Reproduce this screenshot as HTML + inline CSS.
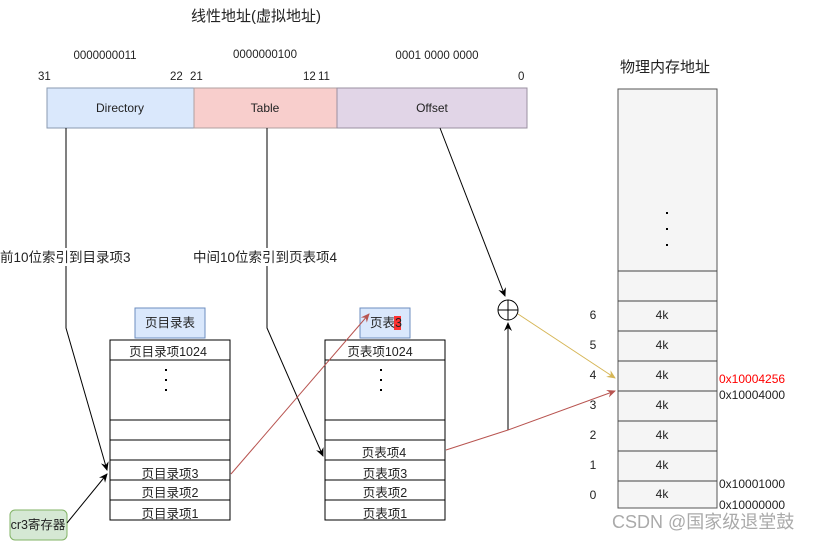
<!DOCTYPE html>
<html><head><meta charset="utf-8"><style>
html,body{margin:0;padding:0;background:#fff;}
svg{display:block;font-family:"Liberation Sans","Noto Sans CJK SC",sans-serif;}
text{fill:#222;font-size:12px;}
</style></head><body>
<svg width="818" height="541" viewBox="0 0 818 541" xmlns="http://www.w3.org/2000/svg">
<defs>
<marker id="ab" markerWidth="10" markerHeight="10" refX="8" refY="4" orient="auto" markerUnits="userSpaceOnUse"><path d="M0,0 L9,4 L0,8 L3,4z" fill="#000"/></marker>
<marker id="ar" markerWidth="10" markerHeight="10" refX="8" refY="4" orient="auto" markerUnits="userSpaceOnUse"><path d="M0,0 L9,4 L0,8 L3,4z" fill="#b85450"/></marker>
<marker id="ay" markerWidth="10" markerHeight="10" refX="8" refY="4" orient="auto" markerUnits="userSpaceOnUse"><path d="M0,0 L9,4 L0,8 L3,4z" fill="#d6b656"/></marker>
</defs>
<text x="256" y="21" text-anchor="middle" style="font-size:15px">线性地址(虚拟地址)</text>
<text x="105" y="59" text-anchor="middle" style="font-size:11.5px">0000000011</text>
<text x="265" y="58" text-anchor="middle" style="font-size:11.5px">0000000100</text>
<text x="437" y="59" text-anchor="middle" style="font-size:11.5px">0001 0000 0000</text>
<text x="38" y="80" style="font-size:11.5px">31</text><text x="170" y="80" style="font-size:11.5px">22</text><text x="190" y="80" style="font-size:11.5px">21</text><text x="303" y="80" style="font-size:11.5px">12</text><text x="318" y="80" style="font-size:11.5px">11</text><text x="518" y="80" style="font-size:11.5px">0</text>
<rect x="47" y="88" width="147" height="40" fill="#dae8fc" stroke="#8a9ab0"/>
<rect x="194" y="88" width="143" height="40" fill="#f8cecc" stroke="#b0a0a0"/>
<rect x="337" y="88" width="190" height="40" fill="#e1d5e7" stroke="#9a90a0"/>
<text x="120" y="112" text-anchor="middle">Directory</text>
<text x="265" y="112" text-anchor="middle">Table</text>
<text x="432" y="112" text-anchor="middle">Offset</text>
<text x="665" y="72" text-anchor="middle" style="font-size:15px">物理内存地址</text>
<rect x="618" y="89" width="99" height="419" fill="#f5f5f5" stroke="#555"/>
<g stroke="#444"><line x1="618" y1="271" x2="717" y2="271"/><line x1="618" y1="301" x2="717" y2="301"/><line x1="618" y1="331" x2="717" y2="331"/><line x1="618" y1="361" x2="717" y2="361"/><line x1="618" y1="391" x2="717" y2="391"/><line x1="618" y1="421" x2="717" y2="421"/><line x1="618" y1="451" x2="717" y2="451"/><line x1="618" y1="481" x2="717" y2="481"/></g>
<g fill="#000"><rect x="666" y="212" width="2" height="2"/><rect x="666" y="228" width="2" height="2"/><rect x="666" y="244" width="2" height="2"/></g>
<g text-anchor="middle"><text x="662" y="319">4k</text><text x="662" y="349">4k</text><text x="662" y="379">4k</text><text x="662" y="409">4k</text><text x="662" y="439">4k</text><text x="662" y="469">4k</text><text x="662" y="498">4k</text>
<text x="593" y="319">6</text><text x="593" y="349">5</text><text x="593" y="379">4</text><text x="593" y="409">3</text><text x="593" y="439">2</text><text x="593" y="469">1</text><text x="593" y="499">0</text></g>
<text x="719" y="383" style="fill:#f00">0x10004256</text>
<text x="719" y="399">0x10004000</text>
<text x="719" y="488">0x10001000</text>
<text x="719" y="509">0x10000000</text>
<text x="612" y="528" style="fill:#aaa;font-size:18px">CSDN @国家级退堂鼓</text>
<rect x="135" y="308" width="70" height="30" fill="#dae8fc" stroke="#6c8ebf"/>
<text x="170" y="327" text-anchor="middle" style="font-size:12.5px">页目录表</text>
<rect x="110" y="340" width="120" height="180" fill="#fff" stroke="#000"/>
<g stroke="#000"><line x1="110" y1="360" x2="230" y2="360"/><line x1="110" y1="420" x2="230" y2="420"/><line x1="110" y1="440" x2="230" y2="440"/><line x1="110" y1="460" x2="230" y2="460"/><line x1="110" y1="480" x2="230" y2="480"/><line x1="110" y1="500" x2="230" y2="500"/></g>
<text x="168" y="356" text-anchor="middle" style="font-size:12.5px">页目录项1024</text>
<g fill="#000"><rect x="165" y="369" width="2" height="2"/><rect x="165" y="379" width="2" height="2"/><rect x="165" y="389" width="2" height="2"/></g>
<text x="170" y="478" text-anchor="middle" style="font-size:12.5px">页目录项3</text>
<text x="170" y="497" text-anchor="middle" style="font-size:12.5px">页目录项2</text>
<text x="170" y="518" text-anchor="middle" style="font-size:12.5px">页目录项1</text>
<rect x="360" y="308" width="50" height="30" fill="#dae8fc" stroke="#6c8ebf"/>
<rect x="394" y="316" width="7" height="14" fill="#f33"/>
<text x="370" y="327" style="font-size:12.5px">页表3</text>
<rect x="325" y="340" width="120" height="180" fill="#fff" stroke="#000"/>
<g stroke="#000"><line x1="325" y1="360" x2="445" y2="360"/><line x1="325" y1="420" x2="445" y2="420"/><line x1="325" y1="440" x2="445" y2="440"/><line x1="325" y1="460" x2="445" y2="460"/><line x1="325" y1="480" x2="445" y2="480"/><line x1="325" y1="500" x2="445" y2="500"/></g>
<text x="380" y="356" text-anchor="middle" style="font-size:12.5px">页表项1024</text>
<g fill="#000"><rect x="380" y="369" width="2" height="2"/><rect x="380" y="379" width="2" height="2"/><rect x="380" y="389" width="2" height="2"/></g>
<text x="384" y="457" text-anchor="middle" style="font-size:12.5px">页表项4</text>
<text x="385" y="478" text-anchor="middle" style="font-size:12.5px">页表项3</text>
<text x="385" y="497" text-anchor="middle" style="font-size:12.5px">页表项2</text>
<text x="385" y="518" text-anchor="middle" style="font-size:12.5px">页表项1</text>
<rect x="10" y="510" width="57" height="30" rx="5" fill="#d5e8d4" stroke="#82b366"/>
<text x="38" y="529" text-anchor="middle" style="font-size:12.5px">cr3寄存器</text>
<g fill="none" stroke="#000">
<polyline points="66,128 66,328 107,470" marker-end="url(#ab)"/>
<polyline points="267,128 267,328 323,456" marker-end="url(#ab)"/>
<line x1="440" y1="128" x2="505" y2="296" marker-end="url(#ab)"/>
<line x1="67" y1="523" x2="107" y2="474" marker-end="url(#ab)"/>
<line x1="508" y1="430" x2="508" y2="323" marker-end="url(#ab)"/>
<circle cx="508" cy="310" r="10" fill="#fff"/>
<line x1="498" y1="310" x2="518" y2="310"/><line x1="508" y1="300" x2="508" y2="320"/>
</g>
<rect x="0" y="248" width="140" height="18" fill="#fff"/>
<text x="0" y="262" style="font-size:13.5px">前10位索引到目录项3</text>
<rect x="190" y="248" width="155" height="18" fill="#fff"/>
<text x="193" y="262" style="font-size:13.5px">中间10位索引到页表项4</text>
<polyline points="446,450 508,430 615,391" fill="none" stroke="#b85450" marker-end="url(#ar)"/>
<line x1="231" y1="474" x2="369" y2="314" stroke="#b85450" marker-end="url(#ar)"/>
<line x1="518" y1="314" x2="615" y2="378" stroke="#d6b656" marker-end="url(#ay)"/>
</svg>
</body></html>
